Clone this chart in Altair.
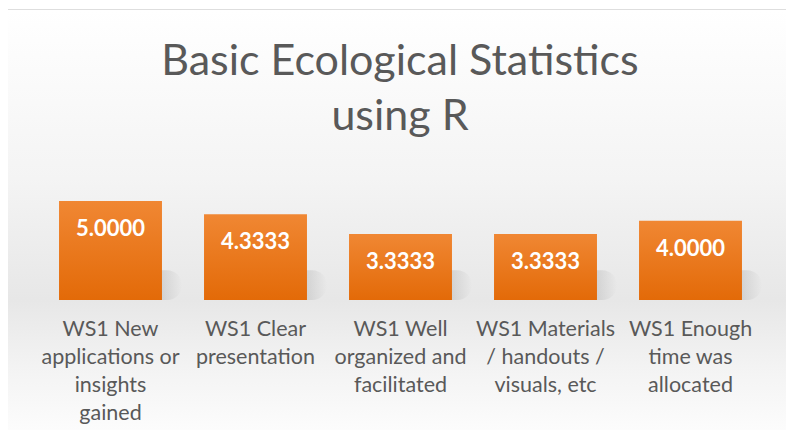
import altair as alt
import pandas as pd

categories = [
    "WS1 New applications or insights gained",
    "WS1 Clear presentation",
    "WS1 Well organized and facilitated",
    "WS1 Materials / handouts / visuals, etc",
    "WS1 Enough time was allocated",
]
label_lines = [
    ["WS1 New", "applications or", "insights", "gained"],
    ["WS1 Clear", "presentation"],
    ["WS1 Well", "organized and", "facilitated"],
    ["WS1 Materials", "/ handouts /", "visuals, etc"],
    ["WS1 Enough", "time was", "allocated"],
]
values = [5.0, 4.3333, 3.3333, 3.3333, 4.0]
value_text = ["5.0000", "4.3333", "3.3333", "3.3333", "4.0000"]
title_lines = ["Basic Ecological Statistics", "using R"]

W, H = 778, 420
FONT = "Lato"

df = pd.DataFrame({
    "category": categories,
    "value": values,
    "vtext": value_text,
    "lines": label_lines,
})

xs = alt.X("category:N", sort=categories, axis=None,
           scale=alt.Scale(range=[30, 755], paddingInner=0.29, paddingOuter=0.145))
ys = alt.Y("value:Q", axis=None, scale=alt.Scale(domain=[0, 5], range=[290, 191]))

bg = alt.Chart(pd.DataFrame({"a": [0]})).mark_rect(
    color=alt.LinearGradient(
        gradient="linear", x1=0, x2=0, y1=0, y2=1,
        stops=[
            alt.GradientStop(color="#ffffff", offset=0),
            alt.GradientStop(color="#f4f4f4", offset=0.4),
            alt.GradientStop(color="#e7e7e7", offset=0.69),
            alt.GradientStop(color="#f3f3f3", offset=0.85),
            alt.GradientStop(color="#fcfcfc", offset=1),
        ],
    )
).encode(x=alt.value(0), x2=alt.value(W), y=alt.value(0), y2=alt.value(H))

shadow = alt.Chart(df).mark_bar(
    cornerRadius=16,
    color=alt.LinearGradient(
        gradient="linear", x1=0, x2=1, y1=0, y2=0,
        stops=[
            alt.GradientStop(color="rgba(110,110,110,0.25)", offset=0),
            alt.GradientStop(color="rgba(110,110,110,0.18)", offset=0.8),
            alt.GradientStop(color="rgba(110,110,110,0)", offset=1),
        ],
    ),
).encode(x=xs, xOffset=alt.value(20), y=alt.Y("s:Q", scale=alt.Scale(domain=[0, 5], range=[290, 191]), axis=None),
         y2=alt.datum(0)).transform_calculate(s="1.5")

bars = alt.Chart(df).mark_bar(
    color=alt.LinearGradient(
        gradient="linear", x1=0, x2=0, y1=0, y2=1,
        stops=[
            alt.GradientStop(color="#f08733", offset=0),
            alt.GradientStop(color="#e36a08", offset=1),
        ],
    )
).encode(x=xs, y=ys, y2=alt.datum(0))

vlabels = alt.Chart(df).mark_text(
    font=FONT, fontSize=22, fontWeight="bold", color="white", baseline="middle", dy=28
).encode(x=xs, y=ys, text="vtext:N")

clabels = alt.Chart(df).mark_text(
    font=FONT, fontSize=21.5, color="#595959", baseline="top", lineHeight=28
).encode(x=xs, y=alt.value(309), text="lines")

title = alt.Chart(pd.DataFrame({"a": [0]})).mark_text(
    text=title_lines, font=FONT, fontSize=43, color="#595959",
    baseline="alphabetic", lineHeight=55, align="center",
).encode(x=alt.value(392), y=alt.value(65))

chart = alt.layer(bg, shadow, bars, vlabels, clabels, title).properties(
    width=W, height=H, padding={"left": 0, "top": 2, "right": 0, "bottom": 0},
    autosize=alt.AutoSizeParams(type="none"),
).configure_view(stroke="#d4d4d4", strokeWidth=1.5)

chart.save("out.html", embed_options={"renderer": "svg", "actions": False})
